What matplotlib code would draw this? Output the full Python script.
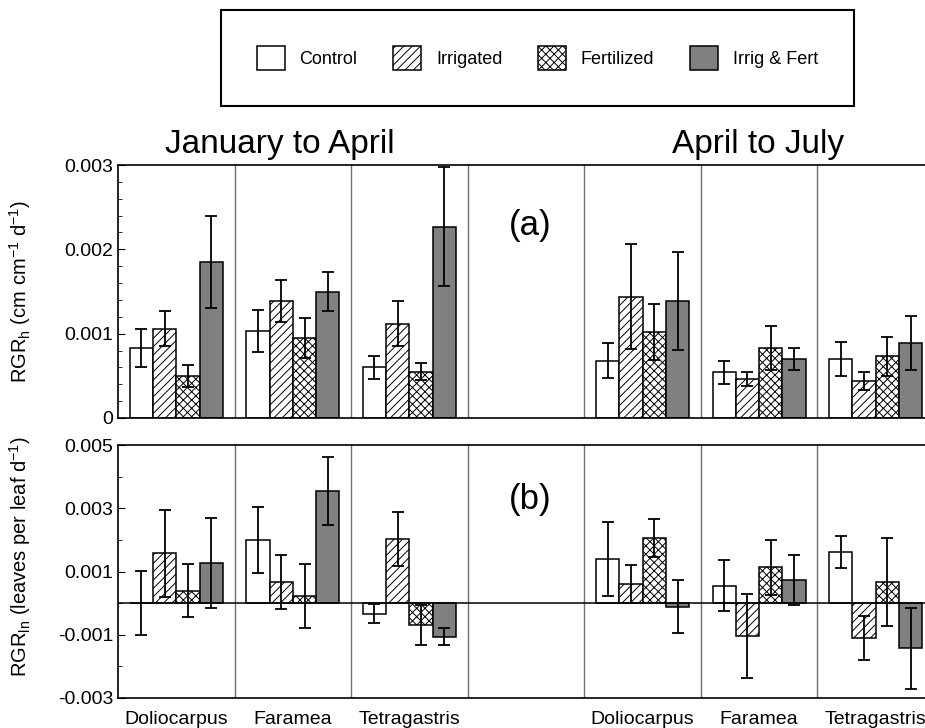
import matplotlib.pyplot as plt
import numpy as np
from matplotlib.patches import Patch
from matplotlib.ticker import MultipleLocator

plt.rcParams['font.family'] = ['Liberation Sans', 'DejaVu Sans']
plt.rcParams['mathtext.default'] = 'regular'
plt.rcParams['hatch.linewidth'] = 0.7

species = ['Doliocarpus', 'Faramea', 'Tetragastris']
treatments = ['Control', 'Irrigated', 'Fertilized', 'Irrig & Fert']

# rows = species, cols = treatments
rgrh_jan = [[0.00083, 0.00106, 0.00050, 0.00185],
            [0.00103, 0.00139, 0.00095, 0.00150],
            [0.00060, 0.00112, 0.00055, 0.00227]]
rgrh_jan_err = [[0.00022, 0.00021, 0.00013, 0.00054],
                [0.00025, 0.00025, 0.00024, 0.00023],
                [0.00014, 0.00027, 0.00010, 0.00071]]
rgrh_apr = [[0.00068, 0.00144, 0.00102, 0.00139],
            [0.00054, 0.00046, 0.00083, 0.00070],
            [0.00070, 0.00044, 0.00073, 0.00089]]
rgrh_apr_err = [[0.00021, 0.00062, 0.00033, 0.00058],
                [0.00014, 0.00008, 0.00026, 0.00013],
                [0.00020, 0.00011, 0.00023, 0.00032]]

rgrl_jan = [[0.00001, 0.00157, 0.00039, 0.00127],
            [0.00199, 0.00067, 0.00023, 0.00355],
            [-0.00033, 0.00202, -0.00070, -0.00106]]
rgrl_jan_err = [[0.00101, 0.00138, 0.00084, 0.00143],
                [0.00104, 0.00085, 0.00101, 0.00108],
                [0.00031, 0.00085, 0.00063, 0.00027]]
rgrl_apr = [[0.00139, 0.00059, 0.00205, -0.00012],
            [0.00055, -0.00104, 0.00113, 0.00072],
            [0.00162, -0.00110, 0.00067, -0.00143]]
rgrl_apr_err = [[0.00117, 0.00060, 0.00060, 0.00084],
                [0.00081, 0.00132, 0.00087, 0.00079],
                [0.00050, 0.00070, 0.00140, 0.00129]]

group_pos = np.array([1, 2, 3, 5, 6, 7])
offsets = [-0.3, -0.1, 0.1, 0.3]
width = 0.2
faces = ['white', 'white', 'white', '#808080']
hatches = [None, '////', 'xxxx', None]


def draw(ax, jan, jan_err, apr, apr_err):
    vals = np.vstack([jan, apr])
    errs = np.vstack([jan_err, apr_err])
    for j in range(4):
        x = group_pos + offsets[j]
        ax.bar(x, vals[:, j], width, color=faces[j], edgecolor='black',
               hatch=hatches[j], linewidth=1.1, zorder=2)
        ax.errorbar(x, vals[:, j], yerr=errs[:, j], fmt='none', ecolor='black',
                    elinewidth=1.3, capsize=4, capthick=1.3, zorder=3)
    for xd in np.arange(1.5, 7.5, 1):
        ax.axvline(xd, color='#707070', lw=1, zorder=1)
    ax.set_xlim(0.5, 7.5)
    ax.tick_params(axis='y', which='both', direction='in', labelsize=14, right=False)
    ax.tick_params(axis='y', which='major', length=5)
    ax.tick_params(axis='y', which='minor', length=3)
    for s in ax.spines.values():
        s.set_linewidth(1.2)


fig = plt.figure(figsize=(9.25, 7.28), dpi=100)
ax1 = fig.add_axes([118 / 925, 1 - 418 / 728, 816 / 925, 253 / 728])
ax2 = fig.add_axes([118 / 925, 1 - 698 / 728, 816 / 925, 253 / 728])

draw(ax1, rgrh_jan, rgrh_jan_err, rgrh_apr, rgrh_apr_err)
ax1.set_ylim(0, 0.003)
ax1.set_yticks([0, 0.001, 0.002, 0.003])
ax1.set_yticklabels(['0', '0.001', '0.002', '0.003'])
ax1.yaxis.set_minor_locator(MultipleLocator(0.0002))
ax1.set_xticks([])
ax1.set_ylabel('RGR$_h$ (cm cm$^{-1}$ d$^{-1}$)', fontsize=14.5)
ax1.yaxis.set_label_coords(-0.104, 0.5)
ax1.text(0.505, 0.76, '(a)', transform=ax1.transAxes, fontsize=25, ha='center', va='center')

draw(ax2, rgrl_jan, rgrl_jan_err, rgrl_apr, rgrl_apr_err)
ax2.axhline(0, color='black', lw=1.1, zorder=2.5)
ax2.set_ylim(-0.003, 0.005)
ax2.set_yticks([-0.003, -0.001, 0.001, 0.003, 0.005])
ax2.set_yticklabels(['-0.003', '-0.001', '0.001', '0.003', '0.005'])
ax2.yaxis.set_minor_locator(MultipleLocator(0.001))
ax2.set_xticks(group_pos)
ax2.set_xticklabels(species * 2, fontsize=14)
ax2.tick_params(axis='x', length=0, pad=9)
ax2.set_ylabel('RGR$_{ln}$ (leaves per leaf d$^{-1}$)', fontsize=14.5)
ax2.yaxis.set_label_coords(-0.104, 0.56)
ax2.text(0.505, 0.783, '(b)', transform=ax2.transAxes, fontsize=25, ha='center', va='center')

fig.text(279.5 / 925, 1 - 153 / 728, 'January to April', fontsize=24, ha='center', va='baseline')
fig.text(758 / 925, 1 - 153 / 728, 'April to July', fontsize=24, ha='center', va='baseline')

handles = [Patch(facecolor=faces[j], edgecolor='black', hatch=hatches[j], linewidth=1.1)
           for j in range(4)]
leg = fig.legend(handles, treatments, loc='center', bbox_to_anchor=(537.5 / 925, 1 - 58 / 728),
                 ncol=4, fontsize=13, frameon=True, fancybox=False, edgecolor='black',
                 handlelength=1.55, handleheight=1.7, handletextpad=0.8,
                 columnspacing=2.0, borderpad=2.0, framealpha=1)
leg.get_frame().set_linewidth(1.5)

fig.savefig('out.png', dpi=100)
